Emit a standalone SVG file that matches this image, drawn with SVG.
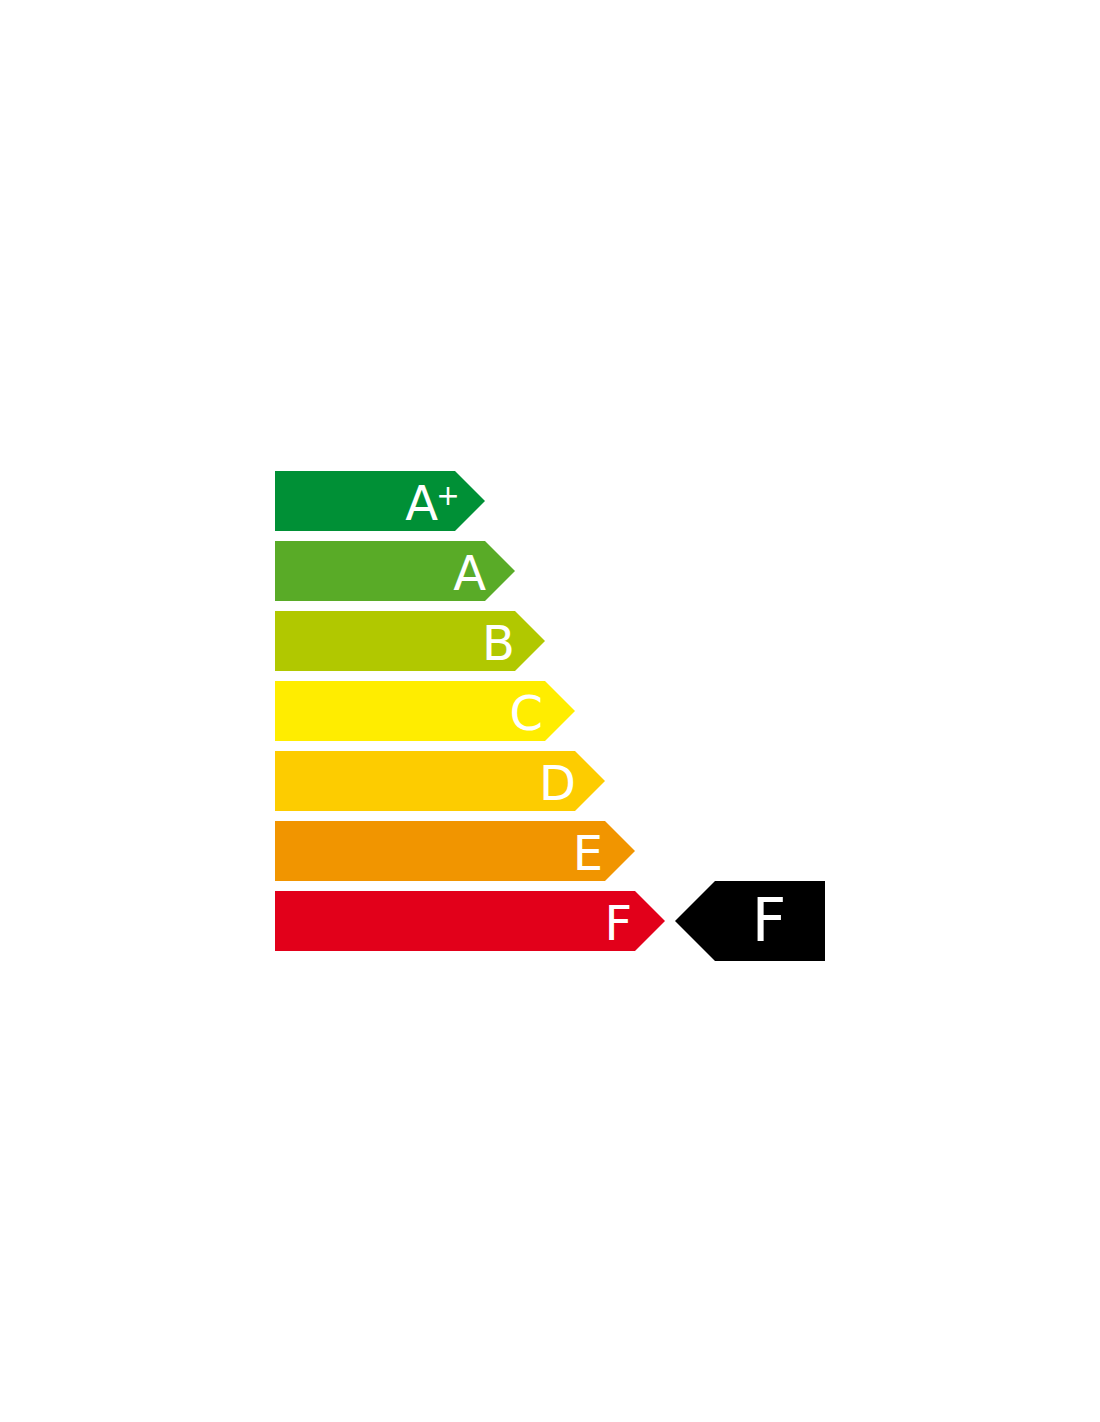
<svg xmlns="http://www.w3.org/2000/svg" width="1100" height="1422" viewBox="0 0 1100 1422">
<style>
.lbl{font-family:"DejaVu Sans",sans-serif;font-size:48px;fill:#ffffff;text-anchor:end}
.big{font-family:"DejaVu Sans",sans-serif;font-size:60px;fill:#ffffff;text-anchor:middle}
</style>
<rect width="1100" height="1422" fill="#ffffff"/>
<g id="bar-aplus"><path d="M275 471H455L485 501L455 531H275Z" fill="#009036"/><text class="lbl" x="438" y="520">A</text><text x="448" y="505" font-family="DejaVu Sans,sans-serif" font-size="28" fill="#ffffff" text-anchor="middle">+</text></g>
<g id="bar-a"><path d="M275 541H485L515 571L485 601H275Z" fill="#59ab27"/><text class="lbl" x="486" y="590">A</text></g>
<g id="bar-b"><path d="M275 611H515L545 641L515 671H275Z" fill="#b1c800"/><text class="lbl" x="515" y="660">B</text></g>
<g id="bar-c"><path d="M275 681H545L575 711L545 741H275Z" fill="#ffed00"/><text class="lbl" x="543" y="730">C</text></g>
<g id="bar-d"><path d="M275 751H575L605 781L575 811H275Z" fill="#fdcc00"/><text class="lbl" x="576" y="800">D</text></g>
<g id="bar-e"><path d="M275 821H605L635 851L605 881H275Z" fill="#f19500"/><text class="lbl" x="603" y="870">E</text></g>
<g id="bar-f"><path d="M275 891H635L665 921L635 951H275Z" fill="#e2001a"/><text class="lbl" x="632" y="940">F</text></g>
<g id="rating"><path d="M675 921L715 881H825V961H715Z" fill="#000000"/><text class="big" x="769" y="941">F</text></g>
<g id="connectors"/>
</svg>
